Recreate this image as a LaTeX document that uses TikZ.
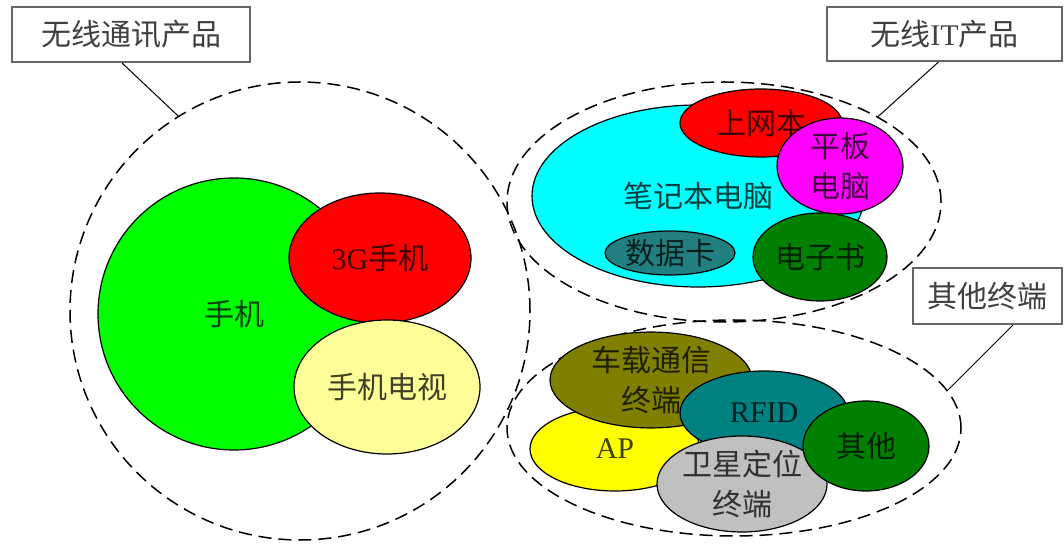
\documentclass[tikz,border=0pt]{standalone}
\usepackage{fontspec}
\setmainfont{Liberation Serif}
\newfontfamily\cjk{Noto Sans CJK SC}
\usetikzlibrary{shapes.geometric}
\definecolor{phonegreen}{HTML}{00FF00}
\definecolor{phonered}{HTML}{FF0000}
\definecolor{tvyellow}{HTML}{FFFF99}
\definecolor{nbcyan}{HTML}{00FFFF}
\definecolor{padmagenta}{HTML}{FF00FF}
\definecolor{apyellow}{HTML}{FFFF00}
\definecolor{cardteal}{HTML}{217F7F}
\definecolor{rfidteal}{HTML}{008080}
\definecolor{darkgreen}{HTML}{008000}
\definecolor{carolive}{HTML}{808000}
\definecolor{gpsgray}{HTML}{C0C0C0}
\definecolor{tagtext}{HTML}{404040}

\begin{document}
\begin{tikzpicture}[x=0.5pt, y=-0.5pt,
	blob/.style={ellipse, draw, line width=0.6pt, inner sep=0pt, align=center,
		font=\cjk\fontsize{15}{20}\selectfont, text opacity=0.75},
	grp/.style={ellipse, draw, line width=0.75pt, dash pattern=on 6.5pt off 3.5pt, inner sep=0pt},
	tag/.style={rectangle, draw=gray!80!black, line width=1pt, fill=white, inner sep=0pt,
		font=\cjk\fontsize{15}{18}\selectfont, text=tagtext}]
	\useasboundingbox (0,0) rectangle (1064,544);

	% dashed groups
	\node[grp, minimum width=230pt, minimum height=229pt] (wl) at (300,311) {};
	\node[grp, minimum width=217pt, minimum height=120pt] (it) at (724,202) {};
	\node[grp, minimum width=227pt, minimum height=108pt] (oe) at (734,428) {};

	% wireless communication products
	\node[blob, fill=phonegreen, minimum width=136pt, minimum height=136pt] (phone) at (234,314) {手机};
	\node[blob, fill=phonered, minimum width=91pt, minimum height=65pt] (g3) at (380,258) {\textrm{3G}手机};
	\node[blob, fill=tvyellow, minimum width=93pt, minimum height=67pt] (tv) at (387,387) {手机电视};

	% wireless IT products
	\node[blob, fill=nbcyan, minimum width=166pt, minimum height=91pt] (nb) at (698,196) {笔记本电脑};
	\node[blob, fill=phonered, minimum width=81pt, minimum height=34pt] (net) at (761,123) {上网本};
	\node[blob, fill=padmagenta, minimum width=63pt, minimum height=48pt] (pad) at (840,166) {平板\\电脑};
	\node[blob, fill=cardteal, minimum width=65pt, minimum height=22pt] (card) at (670,253) {数据卡};
	\node[blob, fill=darkgreen, minimum width=67pt, minimum height=44pt] (book) at (820,257) {电子书};

	% other terminals
	\node[blob, fill=apyellow, minimum width=85pt, minimum height=42pt] (ap) at (615,449) {\textrm{AP}};
	\node[blob, fill=carolive, minimum width=101pt, minimum height=38pt] (car) at (651,380) {车载通信\\终端};
	\node[blob, fill=rfidteal, minimum width=84pt, minimum height=42pt] (rfid) at (764,413) {\textrm{RFID}};
	\node[blob, fill=gpsgray, minimum width=85pt, minimum height=44pt] (gps) at (742,484) {卫星定位\\终端};
	\node[blob, fill=darkgreen, minimum width=63pt, minimum height=45pt] (misc) at (866,446) {其他};

	% callouts
	\node[tag, minimum width=119pt, minimum height=27.5pt] (wlt) at (131,34.5) {无线通讯产品};
	\node[tag, minimum width=117.5pt, minimum height=27pt] (itt) at (944.5,34) {无线\textrm{IT}产品};
	\node[tag, minimum width=74.5pt, minimum height=28pt] (oet) at (987,296) {其他终端};
	\draw[line width=0.5pt] ([xshift=-4.5pt]wlt.south) -- (wl.122);
	\draw[line width=0.5pt] ([xshift=-3pt]itt.south) -- (it.29);
	\draw[line width=0.5pt] ([xshift=13pt]oet.south) -- (oe.10);
\end{tikzpicture}
\end{document}
